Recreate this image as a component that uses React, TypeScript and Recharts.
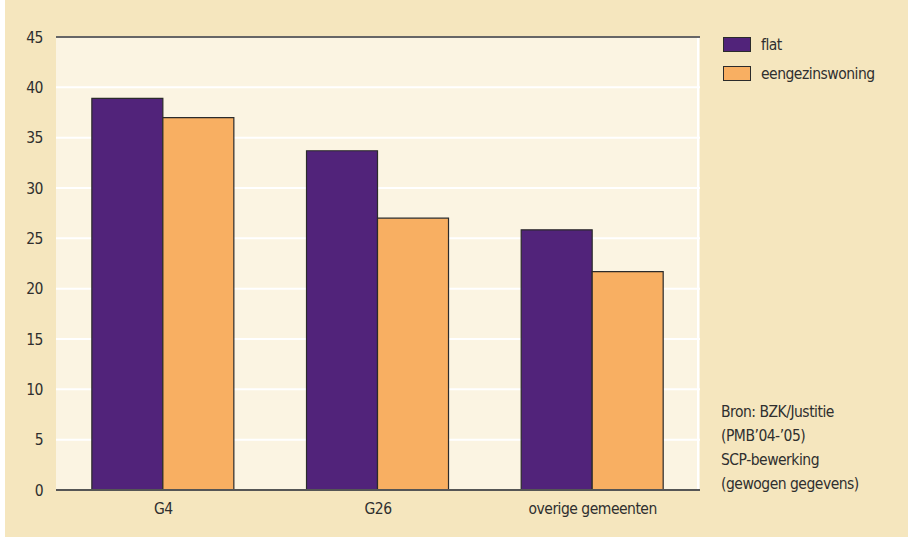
import React from "react";
import { BarChart, Bar, XAxis, YAxis, CartesianGrid, ReferenceLine } from "recharts";

const categories = ["G4", "G26", "overige gemeenten"];
const flatValues = [38.9, 33.7, 25.85];
const eengezinsValues = [37.0, 27.0, 21.7];
const yTicks = [0, 5, 10, 15, 20, 25, 30, 35, 40, 45];
const legendLabels = ["flat", "eengezinswoning"];
const sourceLines = ["Bron: BZK/Justitie", "(PMB\u201904-\u201905)", "SCP-bewerking", "(gewogen gegevens)"];

const data = categories.map((c, i) => ({ name: c, flat: flatValues[i], eengezinswoning: eengezinsValues[i] }));

const FONT = '"Liberation Sans Narrow", "DejaVu Sans Condensed", "Roboto", sans-serif';
const PURPLE = "#51237A";
const ORANGE = "#F8AF62";
const TEXT = "#2f2f2f";
const FS = 15.5;
const LS = "-0.5px";
const tickStyle = { fill: TEXT, fontSize: FS, fontFamily: FONT, letterSpacing: LS };

export default function App() {
  const colors = [PURPLE, ORANGE];
  return (
    <div style={{ position: "relative", width: 908, height: 537, background: "#ffffff", overflow: "hidden" }}>
      <style>{`body{margin:0}`}</style>
      <div style={{ position: "absolute", left: 5, top: 0, width: 903, height: 537, background: "#F5E6BE" }} />
      <div style={{ position: "absolute", left: 0, top: 0 }}>
        <BarChart
          width={908}
          height={537}
          data={data}
          margin={{ top: 37, right: 208, bottom: 17, left: 0 }}
          barGap={0}
          barCategoryGap="16.7%"
        >
          <CartesianGrid
            stroke="#ffffff"
            strokeWidth={2}
            fill="#FBF4E2"
            fillOpacity={1}
            verticalCoordinatesGenerator={(p: any) => [p.offset.left + p.offset.width - 2]}
          />
          <XAxis
            dataKey="name"
            height={30}
            axisLine={{ stroke: "#555", strokeWidth: 2 }}
            tickLine={false}
            tickSize={0}
            tickMargin={13}
            tick={tickStyle}
          />
          <YAxis
            width={56}
            domain={[0, 45]}
            ticks={yTicks}
            axisLine={false}
            tickLine={false}
            tickSize={0}
            tickMargin={13}
            tick={tickStyle}
          />
          <ReferenceLine y={45} stroke="#333" strokeWidth={1.5} />
          <Bar dataKey="flat" fill={PURPLE} stroke="#2b2b2b" strokeWidth={1.2} isAnimationActive={false} />
          <Bar dataKey="eengezinswoning" fill={ORANGE} stroke="#2b2b2b" strokeWidth={1.2} isAnimationActive={false} />
        </BarChart>
      </div>
      <div style={{ position: "absolute", left: 723, top: 30, fontFamily: FONT }}>
        {legendLabels.map((l, i) => (
          <div key={l} style={{ display: "flex", alignItems: "center", height: 29 }}>
            <div style={{ width: 26, height: 13, background: colors[i], border: "1px solid #2b2b2b", marginRight: 10 }} />
            <span style={{ fontSize: FS, letterSpacing: LS, color: TEXT }}>{l}</span>
          </div>
        ))}
      </div>
      <div style={{ position: "absolute", left: 721, top: 400, fontFamily: FONT, fontSize: FS, letterSpacing: LS, color: TEXT, lineHeight: "24px" }}>
        {sourceLines.map((l) => (
          <div key={l}>{l}</div>
        ))}
      </div>
    </div>
  );
}
